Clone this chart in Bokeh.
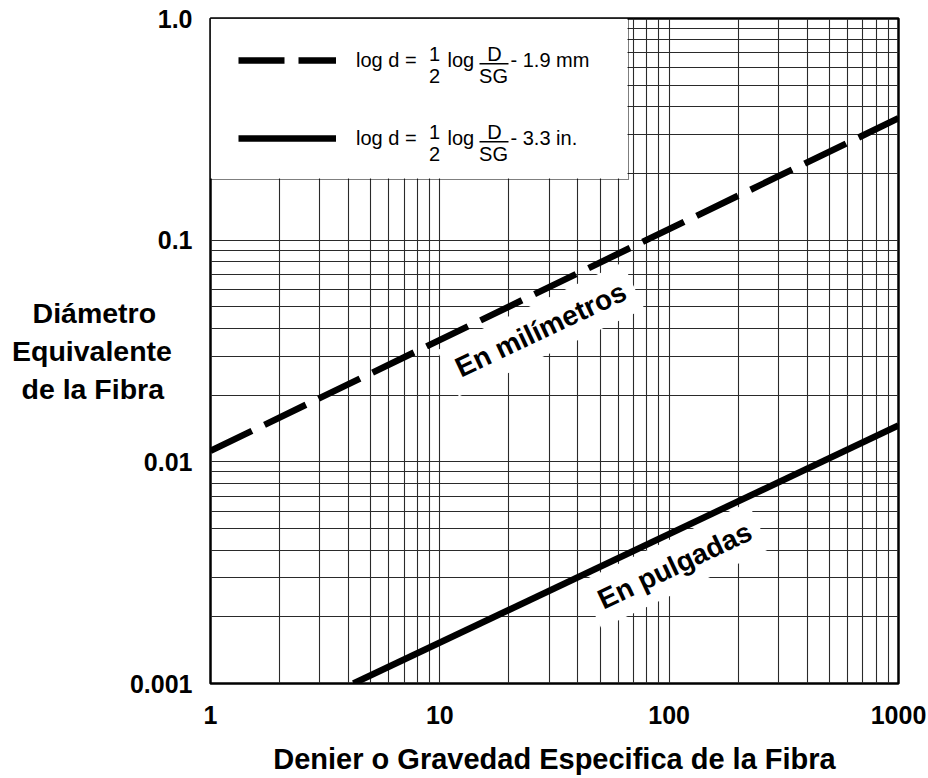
from bokeh.plotting import figure
from bokeh.models import (Range1d, FixedTicker, Label, Legend, LegendItem,
                          BoxAnnotation, CustomJSTickFormatter)
from bokeh.embed import file_html
from bokeh.resources import INLINE

# ---------------- data ----------------
x_ticks = [1, 10, 100, 1000]
x_tick_labels = ["1", "10", "100", "1000"]
y_ticks = [0.001, 0.01, 0.1, 1.0]
y_tick_labels = ["0.001", "0.01", "0.1", "1.0"]
mantissas = [2, 3, 4, 5, 6, 7, 8, 9]
x_decades = [1, 10, 100]
y_decades = [0.001, 0.01, 0.1]

# diameter in millimetres (dashed) and inches (solid)
mm_x = [1, 1000]
mm_y = [0.0112, 0.355]
in_x = [4.2, 1000]
in_y = [0.001, 0.0146]

x_title = "Denier o Gravedad Especifica de la Fibra"
y_title = ["Diámetro", "Equivalente", "de la Fibra"]
mm_label = "En milímetros"
in_label = "En pulgadas"
eq_left = "log d ="
eq_mm = "- 1.9 mm"
eq_in = "- 3.3 in."

# ---------------- layout helpers ----------------
W, H = 928, 778
FL, FR, FT, FB = 210, 898, 18, 683          # frame edges on the canvas
REF_FR = 908                                 # right frame edge in the reference
def dx(px):            # canvas pixel -> data (actual frame)
    return 10 ** ((px - FL) / (FR - FL) * 3)
def dxr(px):           # reference pixel -> data
    return 10 ** ((px - FL) / (REF_FR - FL) * 3)
def dy(py):
    return 10 ** ((FB - py) / (FB - FT) * 3 - 3)

FONT = "Liberation Sans"
NB = "\u00a0"

p = figure(width=W, height=H, x_axis_type="log", y_axis_type="log",
           x_range=Range1d(1, 1000), y_range=Range1d(0.001, 1.0),
           output_backend="svg", toolbar_location=None,
           min_border_left=FL, min_border_right=W - FR,
           min_border_top=FT, min_border_bottom=H - FB)
p.background_fill_color = "white"
p.border_fill_color = "white"
p.outline_line_color = "black"
p.outline_line_width = 2.5

x_minor = [m * d for d in x_decades for m in mantissas]
y_minor = [m * d for d in y_decades for m in mantissas]
xt = FixedTicker(ticks=x_ticks, minor_ticks=x_minor)
yt = FixedTicker(ticks=y_ticks, minor_ticks=y_minor)
p.xaxis.ticker = xt
p.yaxis.ticker = yt
p.xgrid.ticker = xt
p.ygrid.ticker = yt

for g in (p.xgrid, p.ygrid):
    g.grid_line_color = "#2a2a2a"
    g.grid_line_width = 1.1
    g.minor_grid_line_color = "#2a2a2a"
    g.minor_grid_line_width = 1.1

JS = """
    let best = 0, bd = Infinity;
    for (let i = 0; i < tvals.length; i++) {
        const d = Math.abs(Math.log10(tick) - Math.log10(tvals[i]));
        if (d < bd) { bd = d; best = i; }
    }
    return tlabels[best];
"""
p.xaxis.formatter = CustomJSTickFormatter(args=dict(tvals=x_ticks, tlabels=x_tick_labels), code=JS)
p.yaxis.formatter = CustomJSTickFormatter(args=dict(tvals=y_ticks, tlabels=y_tick_labels), code=JS)

for ax in (p.xaxis, p.yaxis):
    ax.axis_line_color = None
    ax.major_tick_line_color = None
    ax.minor_tick_line_color = None
    ax.major_tick_out = 0
    ax.major_tick_in = 0
    ax.minor_tick_out = 0
    ax.minor_tick_in = 0
    ax.major_label_text_font = FONT
    ax.major_label_text_font_style = "bold"
    ax.major_label_text_font_size = "25px"
    ax.major_label_text_color = "black"
    ax.axis_label_text_font = FONT
    ax.axis_label_text_font_style = "bold"
    ax.axis_label_text_color = "black"

p.yaxis.major_label_standoff = 18
p.xaxis.major_label_standoff = 22

p.xaxis.axis_label = x_title
p.xaxis.axis_label_text_font_size = "29px"
p.xaxis.axis_label_standoff = 16

# multi-line y title: lines are right-aligned by the axis, so shorter lines are
# padded with no-break spaces to keep them visually centred
y_pad = [2, 0, 1]
p.yaxis.axis_label = "\n".join(t + NB * n for t, n in zip(y_title, y_pad))
p.yaxis.axis_label_text_font_size = "28.5px"
p.yaxis.axis_label_orientation = "horizontal"
p.yaxis.axis_label_standoff = -45

# ---------------- legend geometry ----------------
LPAD, GH, LSP = 27, 28, 50
c1 = FT + LPAD + GH / 2            # centre of first legend row (canvas px)
c2 = c1 + GH + LSP                 # centre of second legend row
box_bottom = FT + 2 * LPAD + 2 * GH + LSP

# white panel behind the legend (covers the grid, lies under the lines)
p.add_layout(BoxAnnotation(left=1, right=dx(627), top=1.0, bottom=dy(box_bottom),
                           fill_color="white", fill_alpha=1.0,
                           line_color=None, level="underlay"))

def txt(text, px, pyc, size="20px", align="left"):
    p.add_layout(Label(x=dx(px), y=dy(pyc), text=text, text_font=FONT, text_font_size=size,
                       text_align=align, text_baseline="middle", text_color="black",
                       level="underlay"))

for c, tail in ((c1, eq_mm), (c2, eq_in)):
    txt("1", 434, c - 6, align="center")
    txt("2", 434, c + 16, align="center")
    txt("log", 447, c)
    txt("D", 494, c - 6, align="center")
    txt("SG", 493, c + 16, align="center")
    p.add_layout(BoxAnnotation(left=dx(479), right=dx(508), top=dy(c + 3.6),
                               bottom=dy(c + 5.1), fill_color="black", fill_alpha=1,
                               line_color=None, level="underlay"))
    txt(tail, 510, c)

# ---------------- in-plot line labels ----------------
ang = 25.3
for text, (cx, cy) in ((mm_label, (545, 329)), (in_label, (681, 565))):
    p.add_layout(Label(x=dxr(cx), y=dy(cy), text=text, text_font=FONT, text_font_size="28px",
                       text_font_style="bold", text_align="center", text_baseline="middle",
                       angle=ang, angle_units="deg", text_color="black",
                       background_fill_color="white", background_fill_alpha=1.0,
                       padding=10, level="underlay"))

# ---------------- lines ----------------
r_mm = p.line(mm_x, mm_y, line_color="black", line_width=6.5, line_dash="46 14", line_cap="butt")
r_in = p.line(in_x, in_y, line_color="black", line_width=6.5, line_cap="butt")

# ---------------- legend (transparent fill, black frame) ----------------
legend = Legend(items=[LegendItem(label=eq_left, renderers=[r_mm]),
                       LegendItem(label=eq_left, renderers=[r_in])],
                location="top_left", margin=0, padding=LPAD, spacing=LSP,
                glyph_width=98, glyph_height=GH, label_standoff=20, label_width=245,
                border_line_color="black", border_line_width=1.8,
                background_fill_color="white", background_fill_alpha=0.0,
                label_text_font=FONT, label_text_font_size="20px", label_text_color="black")
p.add_layout(legend)

open("out.html", "w").write(file_html(p, INLINE))
